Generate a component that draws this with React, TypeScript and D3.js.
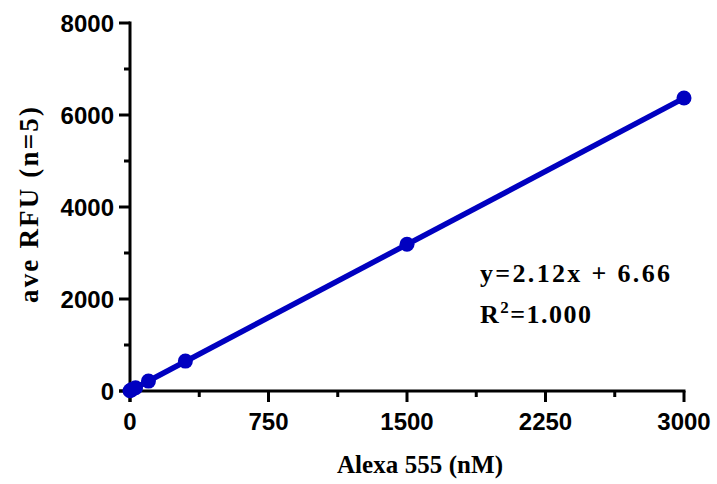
import React, { useEffect, useRef } from 'react'
import * as d3 from 'd3'

// concentrations (nM) and mean RFU
const conc = [0, 10, 30, 100, 300, 1500, 3000]
const rfu = [5, 30, 70, 215, 650, 3190, 6370]

const xTicks = [0, 750, 1500, 2250, 3000]
const xMinor = [375, 1125, 1875, 2625]
const yTicks = [0, 2000, 4000, 6000, 8000]
const yMinor = [1000, 3000, 5000, 7000]

const slope = 2.12
const intercept = 6.66
const fitLabel = ['y=2.12x + 6.66', '1.000']

const BLUE = '#0000c0'

function App() {
  const ref = useRef<SVGSVGElement>(null)

  useEffect(() => {
    const svg = d3.select(ref.current)
    svg.selectAll('*').remove()

    const x = d3.scaleLinear().domain([0, 3000]).range([130, 684])
    const y = d3.scaleLinear().domain([0, 8000]).range([391, 23])

    const sans = 'Liberation Sans, Arial, sans-serif'
    const serif = 'Liberation Serif, Times New Roman, serif'

    // axes
    const xAxis = svg.append('g')
    xAxis.append('line')
      .attr('x1', x(0) - 11).attr('x2', x(3000) + 1.5)
      .attr('y1', y(0)).attr('y2', y(0))
      .attr('stroke', '#000').attr('stroke-width', 3)
    xAxis.selectAll('.maj').data(xTicks).join('line')
      .attr('x1', d => x(d)).attr('x2', d => x(d))
      .attr('y1', y(0)).attr('y2', y(0) + 11)
      .attr('stroke', '#000').attr('stroke-width', 3)
    xAxis.selectAll('.min').data(xMinor).join('line')
      .attr('x1', d => x(d)).attr('x2', d => x(d))
      .attr('y1', y(0)).attr('y2', y(0) + 6)
      .attr('stroke', '#000').attr('stroke-width', 3)
    xAxis.selectAll('text').data(xTicks).join('text')
      .attr('x', d => x(d)).attr('y', 430)
      .attr('text-anchor', 'middle')
      .attr('font-family', sans).attr('font-weight', 'bold').attr('font-size', 24)
      .text(d => String(d))

    const yAxis = svg.append('g')
    yAxis.append('line')
      .attr('x1', x(0)).attr('x2', x(0))
      .attr('y1', y(8000) - 1.5).attr('y2', y(0) + 11)
      .attr('stroke', '#000').attr('stroke-width', 3)
    yAxis.selectAll('.maj').data(yTicks).join('line')
      .attr('x1', x(0) - 11).attr('x2', x(0))
      .attr('y1', d => y(d)).attr('y2', d => y(d))
      .attr('stroke', '#000').attr('stroke-width', 3)
    yAxis.selectAll('.min').data(yMinor).join('line')
      .attr('x1', x(0) - 6).attr('x2', x(0))
      .attr('y1', d => y(d)).attr('y2', d => y(d))
      .attr('stroke', '#000').attr('stroke-width', 3)
    yAxis.selectAll('text').data(yTicks).join('text')
      .attr('x', 114).attr('y', d => y(d) + 8.5)
      .attr('text-anchor', 'end')
      .attr('font-family', sans).attr('font-weight', 'bold').attr('font-size', 24)
      .text(d => String(d))

    // fit line
    const line = d3.line<number>().x(d => x(d)).y(d => y(slope * d + intercept))
    svg.append('path')
      .attr('d', line([0, 3000]))
      .attr('fill', 'none').attr('stroke', BLUE).attr('stroke-width', 5.5)

    // points
    svg.append('g').selectAll('circle').data(conc).join('circle')
      .attr('cx', d => x(d)).attr('cy', (d, i) => y(rfu[i]))
      .attr('r', 7.5).attr('fill', BLUE)

    // titles (serif is narrower than the original Garamond, so stretch spacing)
    svg.append('text')
      .attr('x', 337).attr('y', 473)
      .attr('textLength', 166).attr('lengthAdjust', 'spacing')
      .attr('font-family', serif).attr('font-weight', 'bold').attr('font-size', 25)
      .text('Alexa 555 (nM)')
    svg.append('text')
      .attr('transform', 'translate(38,303) rotate(-90)')
      .attr('textLength', 196).attr('lengthAdjust', 'spacing')
      .attr('font-family', serif).attr('font-weight', 'bold').attr('font-size', 27)
      .text('ave RFU (n=5)')

    // annotation
    svg.append('text')
      .attr('x', 480).attr('y', 282)
      .attr('textLength', 190).attr('lengthAdjust', 'spacing')
      .attr('font-family', serif).attr('font-weight', 'bold').attr('font-size', 26)
      .text(fitLabel[0])
    const r2 = svg.append('text')
      .attr('x', 480).attr('y', 323)
      .attr('font-family', serif).attr('font-weight', 'bold').attr('font-size', 26)
      .attr('letter-spacing', 1.5)
    r2.append('tspan').text('R')
    r2.append('tspan').attr('dy', -10).attr('font-size', 17).text('2')
    r2.append('tspan').attr('dy', 10).text('=' + fitLabel[1])
  })

  return (
    <svg ref={ref} width={717} height={484} style={{ position: 'absolute', left: 0, top: 0 }} />
  )
}

export default App
